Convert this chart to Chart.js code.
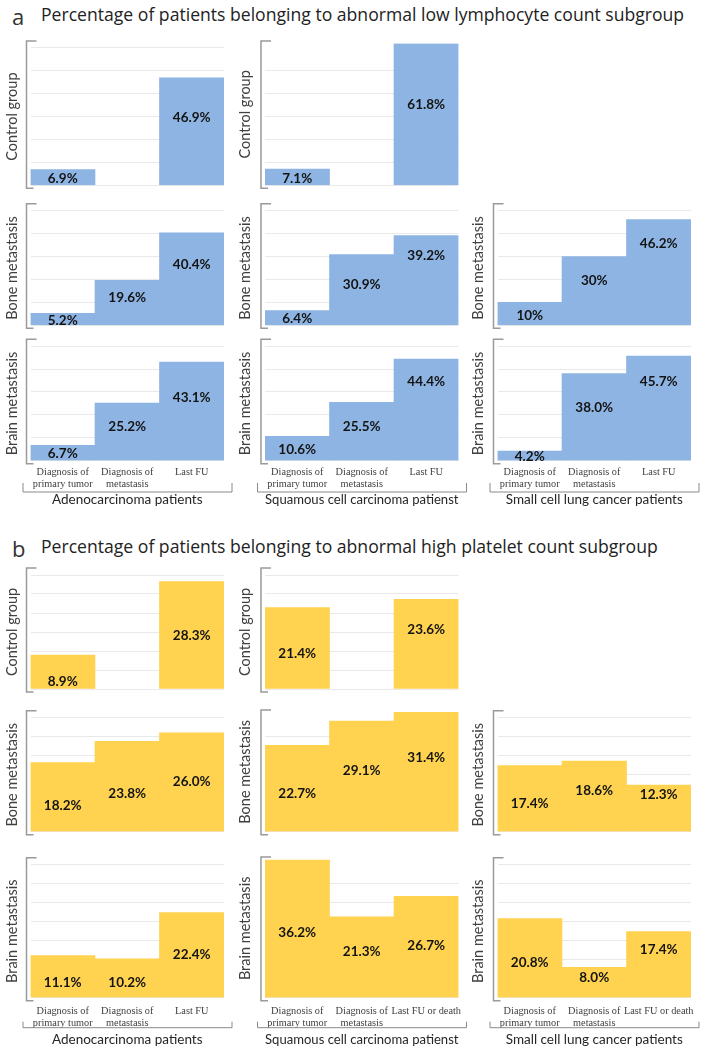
<!DOCTYPE html>
<html>
<head>
<meta charset="utf-8">
<title>Abnormal lymphocyte and platelet subgroups</title>
<script src="https://cdn.jsdelivr.net/npm/chart.js@4.4.0/dist/chart.umd.min.js"></script>
<style>
body { margin: 0; background: #fff; }
#page { position: relative; width: 709px; height: 1052px; overflow: hidden; }
#page canvas { position: absolute; }
.sec { position: absolute; font-family: "Open Sans", sans-serif; font-size: 22px; line-height: 26px; color: #333; }
.ttl { position: absolute; font-family: "Open Sans", sans-serif; font-size: 17.6px; line-height: 20px; color: #222; white-space: nowrap; }
</style>
</head>
<body>
<div id="page">
    <div class="sec" style="left:12px; top:3px;">a</div>
    <div class="ttl" style="left:41px; top:4px;">Percentage of patients belonging to abnormal low lymphocyte count subgroup</div>
    <div class="sec" style="left:12px; top:535px;">b</div>
    <div class="ttl" style="left:41px; top:536px;">Percentage of patients belonging to abnormal high platelet count subgroup</div>
</div>
<script>
// categories (x tick labels)
const stages = [['Diagnosis of', 'primary tumor'], ['Diagnosis of', 'metastasis'], 'Last FU'];
const stagesDeath = [['Diagnosis of', 'primary tumor'], ['Diagnosis of', 'metastasis'], 'Last FU or death'];
const groups = ['Adenocarcinoma patients', 'Squamous cell carcinoma patienst', 'Small cell lung cancer patients'];
const rowTitles = ['Control group', 'Bone metastasis', 'Brain metastasis'];

// a: % with abnormal low lymphocyte count (one list per column)
const lymphControl = [['6.9', null, '46.9'], ['7.1', null, '61.8']];
const lymphBone = [['5.2', '19.6', '40.4'], ['6.4', '30.9', '39.2'], ['10', '30', '46.2']];
const lymphBrain = [['6.7', '25.2', '43.1'], ['10.6', '25.5', '44.4'], ['4.2', '38.0', '45.7']];

// b: % with abnormal high platelet count
const pltControl = [['8.9', null, '28.3'], ['21.4', null, '23.6']];
const pltBone = [['18.2', '23.8', '26.0'], ['22.7', '29.1', '31.4'], ['17.4', '18.6', '12.3']];
const pltBrain = [['11.1', '10.2', '22.4'], ['36.2', '21.3', '26.7'], ['20.8', '8.0', '17.4']];

// where each value label sits, as a share of its bar height
const lymphLabelAt = [
    [[.40, 0, .63], [.39, 0, .57]],
    [[.39, .62, .66], [.48, .58, .78], [.43, .65, .77]],
    [[.44, .59, .64], [.47, .59, .78], [.42, .61, .76]]
];
const pltLabelAt = [
    [[.22, 0, .50], [.43, 0, .66]],
    [[.37, .42, .51], [.44, .55, .62], [.42, .58, .80]],
    [[.35, .38, .51], [.47, .57, .51], [.44, .67, .72]]
];

// layout
const colCanvasLeft = [1, 235, 468];
const colChartLeft = [30.5, 265, 497.5];
const colTitleX = [11, 10, 10];
const canvasW = 236;

const secA = {
    rows: [lymphControl, lymphBone, lymphBrain], labelAt: lymphLabelAt,
    color: '#8DB4E2', k: 2.29, step: 10, bases: [185.3, 325.3, 460.7],
    maxes: [[60, 62], [50, 50, 50], [50, 50, 50]],
    tickPad: 5, xHeight: 47, group: { tick: 22.3, line: 31.3 },
    bottomStages: [stages, stages, stages]
};
const secB = {
    rows: [pltControl, pltBone, pltBrain], labelAt: pltLabelAt,
    color: '#FFD24F', k: 3.8, step: 5, bases: [689, 831.7, 997.7],
    maxes: [[30, 30], [30, 31.5, 30], [35, 36.5, 35]],
    tickPad: 7, xHeight: 49.7, group: { tick: 24, line: 30 },
    bottomStages: [stages, stagesDeath, stagesDeath]
};

Chart.defaults.font.family = 'Lato, sans-serif';
Chart.defaults.animation = false;

// bold % labels on the bars
const valueLabels = {
    id: 'valueLabels',
    afterDatasetsDraw(chart, args, opts) {
        const ctx = chart.ctx;
        const ys = chart.scales.y;
        const data = chart.data.datasets[0].data;
        ctx.save();
        ctx.font = 'bold 13.5px Lato, sans-serif';
        ctx.fillStyle = '#141414';
        ctx.textAlign = 'center';
        ctx.textBaseline = 'middle';
        chart.getDatasetMeta(0).data.forEach((bar, i) => {
            const v = data[i];
            if (v == null) return;
            ctx.fillText(opts.texts[i] + '%', bar.x, ys.getPixelForValue(v * opts.at[i]));
        });
        ctx.restore();
    }
};

// excel-like bracket on the y axis, and the group bracket under the bottom row
const brackets = {
    id: 'brackets',
    afterDraw(chart, args, opts) {
        const ctx = chart.ctx;
        const a = chart.chartArea;
        const y = chart.scales.y;
        const gridTop = y.getPixelForValue(Math.floor(y.max / opts.step) * opts.step);
        const topY = Math.min(gridTop - 7, a.top - 2);
        const botY = a.bottom + 3;
        const x = a.left - 4;
        ctx.save();
        ctx.strokeStyle = '#9a9a9a';
        ctx.lineWidth = 1.5;
        ctx.beginPath();
        ctx.moveTo(x + 10, topY);
        ctx.lineTo(x, topY);
        ctx.lineTo(x, botY);
        ctx.lineTo(x + 7, botY);
        ctx.stroke();
        if (opts.group) {
            const g = opts.group;
            const l = a.left - 7.5, r = a.right + 8;
            ctx.strokeStyle = '#8a8a8a';
            ctx.lineWidth = 1;
            ctx.beginPath();
            ctx.moveTo(l, a.bottom + g.tick);
            ctx.lineTo(l, a.bottom + g.line);
            ctx.lineTo(r, a.bottom + g.line);
            ctx.lineTo(r, a.bottom + g.tick);
            ctx.stroke();
        }
        ctx.restore();
    }
};

function makePanel(sec, r, c) {
    const texts = sec.rows[r][c];
    const values = texts.map(t => t == null ? null : parseFloat(t));
    const max = sec.maxes[r][c];
    const base = sec.bases[r];
    const bottomRow = r === 2;
    const xH = bottomRow ? sec.xHeight : 0;
    const chartH = max * sec.k;
    const top = Math.floor(base - chartH - 10);
    const padTop = base - chartH - top;
    const H = Math.ceil(padTop + chartH + xH + (bottomRow ? 3 : 6));
    const padBottom = H - padTop - chartH - xH;
    const yWidth = colChartLeft[c] - colCanvasLeft[c];
    const chartRight = colChartLeft[c] + 193.5;

    const cv = document.createElement('canvas');
    cv.width = canvasW;
    cv.height = H;
    cv.style.left = colCanvasLeft[c] + 'px';
    cv.style.top = top + 'px';
    document.getElementById('page').appendChild(cv);

    new Chart(cv, {
        type: 'bar',
        data: {
            labels: bottomRow ? sec.bottomStages[c] : stages,
            datasets: [{
                data: values,
                backgroundColor: sec.color,
                borderWidth: 0,
                barPercentage: 1,
                categoryPercentage: 1
            }]
        },
        options: {
            responsive: false,
            layout: { padding: { left: 0, top: padTop, bottom: padBottom, right: canvasW - (chartRight - colCanvasLeft[c]) } },
            plugins: {
                legend: { display: false },
                tooltip: { enabled: false },
                valueLabels: { texts: texts, at: sec.labelAt[r][c] },
                brackets: { step: sec.step, group: bottomRow ? sec.group : null }
            },
            scales: {
                x: {
                    display: bottomRow,
                    grid: { display: false, drawTicks: false },
                    border: { display: false },
                    ticks: {
                        autoSkip: false, maxRotation: 0, padding: sec.tickPad, color: '#404040',
                        font: { family: '"Liberation Serif", serif', size: 10.3, lineHeight: 1.2 }
                    },
                    title: {
                        display: bottomRow, text: groups[c], color: '#262626', padding: 0,
                        font: { family: 'Lato, sans-serif', size: 13.5, lineHeight: 1.2 }
                    },
                    afterFit(scale) { scale.height = xH; }
                },
                y: {
                    min: 0, max: max,
                    ticks: {
                        display: false, stepSize: sec.step
                    },
                    afterBuildTicks(scale) {
                        scale.ticks = scale.ticks.filter(t => Math.abs(t.value / sec.step - Math.round(t.value / sec.step)) < 1e-6);
                    },
                    grid: { color: '#e9e9e9', lineWidth: 1, drawTicks: false },
                    border: { display: false },
                    title: {
                        display: true, text: rowTitles[r], color: '#404040',
                        padding: { top: colTitleX[c] - 8.7, bottom: 0 },
                        font: { family: 'Lato, sans-serif', size: 14.5, lineHeight: 1.2 }
                    },
                    afterFit(scale) { scale.width = yWidth; }
                }
            }
        },
        plugins: [valueLabels, brackets]
    });
}

[secA, secB].forEach(sec => {
    sec.rows.forEach((row, r) => {
        row.forEach((col, c) => makePanel(sec, r, c));
    });
});
</script>
</body>
</html>
